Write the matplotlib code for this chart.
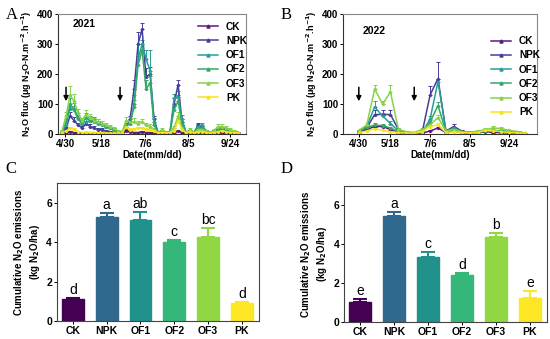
import matplotlib
matplotlib.use("Agg")
import matplotlib.pyplot as plt
from matplotlib.lines import Line2D
import numpy as np

plt.rcParams["font.family"] = ["Liberation Sans", "DejaVu Sans"]
plt.rcParams["font.weight"] = "bold"

treatments = ["CK", "NPK", "OF1", "OF2", "OF3", "PK"]
line_colors = ["#5a1a7a", "#443f9c", "#2a9d98", "#35a866", "#86d24a", "#f7e21e"]
bar_colors = ["#440154", "#31688e", "#21918c", "#35b779", "#90d743", "#fde725"]

# ---- 2021 flux (sampling index) ----
flux_2021 = {
    "CK": [5, 5, 8, 5, 4, 3, 5, 4, 4, 3, 3, 3, 2, 2, 2, 2, 10, 8, 5, 5, 8, 5, 5, 3, 2, 3, 2, 3, 5, 10, 5, 3, 3, 2, 5, 5, 3, 2, 3, 5, 5, 5, 3, 3, 2],
    "NPK": [5, 20, 60, 45, 30, 20, 35, 25, 20, 15, 15, 10, 8, 5, 3, 3, 20, 50, 150, 300, 350, 190, 200, 50, 5, 10, 5, 8, 100, 165, 40, 5, 10, 5, 30, 20, 10, 5, 10, 15, 20, 15, 10, 8, 5],
    "OF1": [8, 30, 85, 85, 55, 35, 40, 45, 45, 40, 35, 25, 20, 15, 8, 5, 25, 40, 100, 250, 300, 250, 210, 40, 5, 10, 5, 8, 120, 125, 50, 5, 10, 5, 25, 30, 10, 5, 10, 15, 20, 15, 10, 8, 5],
    "OF2": [8, 40, 100, 80, 50, 35, 55, 45, 40, 35, 30, 25, 20, 15, 8, 5, 30, 35, 90, 230, 280, 150, 170, 30, 5, 10, 5, 8, 80, 110, 30, 5, 12, 5, 20, 20, 10, 5, 10, 15, 20, 15, 10, 8, 5],
    "OF3": [10, 60, 130, 110, 70, 45, 65, 55, 45, 40, 35, 30, 25, 20, 10, 8, 45, 40, 40, 35, 40, 30, 25, 15, 5, 15, 5, 8, 20, 60, 20, 5, 15, 5, 15, 15, 10, 5, 12, 25, 25, 20, 15, 10, 5],
    "PK": [5, 10, 20, 15, 8, 5, 5, 5, 5, 4, 4, 3, 3, 3, 2, 2, 25, 15, 15, 20, 20, 15, 15, 10, 3, 5, 3, 5, 10, 45, 15, 3, 8, 3, 8, 8, 5, 3, 5, 8, 10, 8, 5, 5, 3],
}
err_2021 = {
    "CK": [1, 1, 2, 1, 1, 1, 1, 1, 1, 1, 1, 1, 1, 1, 1, 1, 3, 2, 1, 1, 2, 1, 1, 1, 1, 1, 1, 1, 1, 3, 1, 1, 1, 1, 1, 1, 1, 1, 1, 1, 1, 1, 1, 1, 1],
    "NPK": [2, 5, 15, 12, 8, 6, 10, 8, 8, 6, 5, 4, 3, 2, 1, 1, 5, 10, 30, 40, 20, 30, 25, 10, 2, 3, 2, 2, 20, 15, 10, 2, 3, 2, 8, 6, 3, 2, 3, 5, 5, 4, 3, 2, 2],
    "OF1": [2, 8, 10, 20, 15, 10, 15, 15, 12, 10, 8, 6, 5, 4, 2, 2, 6, 10, 30, 50, 15, 30, 70, 15, 2, 3, 2, 2, 15, 20, 12, 2, 3, 2, 8, 8, 3, 2, 3, 5, 5, 4, 3, 2, 2],
    "OF2": [2, 10, 20, 15, 12, 10, 15, 12, 10, 8, 8, 6, 5, 4, 2, 2, 8, 10, 25, 30, 20, 30, 25, 10, 2, 3, 2, 2, 15, 20, 10, 2, 3, 2, 6, 6, 3, 2, 3, 5, 5, 4, 3, 2, 2],
    "OF3": [3, 15, 30, 25, 15, 10, 15, 12, 10, 10, 8, 6, 5, 4, 3, 2, 12, 10, 12, 10, 10, 8, 8, 5, 2, 5, 2, 2, 8, 12, 6, 2, 5, 2, 5, 5, 3, 2, 4, 8, 10, 6, 4, 3, 2],
    "PK": [1, 3, 5, 4, 2, 1, 1, 1, 1, 1, 1, 1, 1, 1, 1, 1, 5, 4, 4, 5, 5, 4, 4, 3, 1, 2, 1, 1, 3, 8, 4, 1, 2, 1, 2, 2, 1, 1, 2, 2, 3, 2, 1, 1, 1],
}
ticks_2021 = [0.75, 9.75, 20.75, 31.5, 42]
arrows_2021 = [1, 14.5]

# ---- 2022 flux ----
flux_2022 = {
    "CK": [5, 15, 25, 25, 15, 5, 3, 2, 3, 10, 20, 5, 10, 5, 3, 5, 8, 5, 5, 3, 3, 2],
    "NPK": [8, 20, 65, 65, 65, 15, 5, 3, 5, 130, 185, 10, 25, 10, 5, 8, 10, 10, 8, 8, 8, 3],
    "OF1": [10, 25, 90, 60, 35, 10, 5, 3, 5, 50, 175, 10, 15, 8, 5, 8, 10, 12, 10, 8, 5, 3],
    "OF2": [10, 22, 30, 28, 20, 8, 5, 3, 5, 40, 95, 8, 20, 8, 5, 8, 10, 12, 10, 8, 5, 3],
    "OF3": [12, 30, 150, 100, 140, 15, 8, 5, 15, 30, 55, 10, 15, 8, 5, 10, 15, 20, 18, 12, 8, 3],
    "PK": [5, 10, 18, 12, 8, 5, 3, 2, 8, 25, 30, 5, 8, 5, 3, 5, 12, 10, 8, 5, 3, 2],
}
err_2022 = {
    "CK": [1, 3, 5, 5, 4, 1, 1, 1, 1, 3, 4, 1, 2, 1, 1, 1, 2, 1, 1, 1, 1, 1],
    "NPK": [2, 5, 15, 15, 15, 4, 1, 1, 1, 30, 55, 3, 8, 2, 1, 2, 3, 3, 2, 4, 2, 1],
    "OF1": [2, 5, 20, 10, 8, 3, 1, 1, 1, 10, 10, 2, 3, 2, 1, 2, 3, 3, 2, 2, 1, 1],
    "OF2": [2, 5, 6, 6, 5, 2, 1, 1, 1, 8, 12, 2, 5, 2, 1, 2, 3, 3, 2, 2, 1, 1],
    "OF3": [3, 6, 12, 10, 22, 4, 2, 1, 4, 8, 10, 3, 4, 2, 1, 3, 5, 8, 6, 3, 2, 1],
    "PK": [1, 3, 6, 3, 2, 1, 1, 1, 3, 6, 6, 1, 2, 1, 1, 1, 3, 2, 2, 1, 1, 1],
}
ticks_2022 = [0, 3.9, 9, 14, 19]
arrows_2022 = [0, 7]

date_labels = ["4/30", "5/18", "7/6", "8/5", "9/24"]

# ---- cumulative emissions ----
cum_2021 = [1.1, 5.3, 5.1, 4.0, 4.25, 0.9]
cum_2021_err = [0.05, 0.2, 0.45, 0.12, 0.45, 0.08]
letters_2021 = ["d", "a", "ab", "c", "bc", "d"]
cum_2022 = [1.05, 5.45, 3.35, 2.4, 4.4, 1.25]
cum_2022_err = [0.12, 0.22, 0.25, 0.12, 0.17, 0.33]
letters_2022 = ["e", "a", "c", "d", "b", "e"]

fig = plt.figure(figsize=(5.5, 3.39), dpi=100)


def flux_panel(ax, flux, err, ticks, arrows, year, xlim, legend_anchor):
    handles = []
    for name, c in zip(treatments, line_colors):
        y = np.array(flux[name], dtype=float)
        x = np.arange(len(y))
        e = np.array(err[name], dtype=float)
        ax.errorbar(x, y, yerr=[np.zeros_like(e), e], color=c, lw=1.1,
                    marker="o", ms=1.3, elinewidth=0.7, capsize=1.2,
                    capthick=0.7)
        handles.append(Line2D([], [], color=c, lw=1.1, marker="^", ms=2.2,
                              label=name))
    ax.set_xlim(*xlim)
    ax.set_ylim(0, 400)
    ax.set_yticks([0, 100, 200, 300, 400])
    ax.set_xticks(ticks)
    ax.set_xticklabels(date_labels)
    ax.tick_params(labelsize=7, length=2, width=0.7, pad=1.5)
    for s in ax.spines.values():
        s.set_color("#888888")
        s.set_linewidth(0.8)
    ax.spines["left"].set_color("#333333")
    ax.spines["bottom"].set_color("#333333")
    ax.set_xlabel("Date(mm/dd)", fontsize=7, fontweight="bold", labelpad=1)
    ax.set_ylabel("N$_2$O flux (\u03bcg N$_2$O-N.m$^{-2}$.h$^{-1}$)",
                  fontsize=6.5, fontweight="bold", labelpad=2)
    for a in arrows:
        ax.annotate("", xy=(a, 100), xytext=(a, 165),
                    arrowprops=dict(arrowstyle="-|>", color="black", lw=1.1,
                                    mutation_scale=7))
    ax.text(*year[1], year[0], transform=ax.transAxes, fontsize=7.5,
            fontweight="bold", va="top")
    ax.legend(handles=handles, loc="upper left", bbox_to_anchor=legend_anchor,
              frameon=False, fontsize=7.3, handlelength=2.0, labelspacing=0.42,
              handletextpad=0.8, borderaxespad=0)


axA = fig.add_axes([0.1055, 0.6047, 0.342, 0.354])
flux_panel(axA, flux_2021, err_2021, ticks_2021, arrows_2021,
           ("2021", (0.08, 0.96)), (-1, 46), (0.72, 0.97))
axB = fig.add_axes([0.6236, 0.6047, 0.3527, 0.354])
flux_panel(axB, flux_2022, err_2022, ticks_2022, arrows_2022,
           ("2022", (0.1, 0.9)), (-2, 22.5), (0.74, 0.85))


def bar_panel(ax, vals, errs, letters):
    x = np.arange(len(treatments))
    ax.bar(x, vals, width=0.64, color=bar_colors, edgecolor=bar_colors)
    for xi, v, e, c, lt in zip(x, vals, errs, bar_colors, letters):
        ax.errorbar(xi, v, yerr=[[0], [e]], color=c, capsize=5, elinewidth=1.5,
                    capthick=1.5)
        ax.text(xi, v + e + 0.05, lt, ha="center", va="bottom", fontsize=10,
                fontweight="normal")
    ax.set_xlim(-0.47, 5.5)
    ax.set_ylim(0, 7)
    ax.set_yticks([0, 2, 4, 6])
    ax.set_xticks(x)
    ax.set_xticklabels(treatments)
    ax.tick_params(labelsize=7.5, length=2, width=0.7, pad=1.5)
    for s in ax.spines.values():
        s.set_color("#444444")
        s.set_linewidth(0.8)
    ax.set_ylabel("Cumulative N$_2$O emissions\n(kg N$_2$O/ha)", fontsize=7,
                  fontweight="bold", labelpad=3)


axC = fig.add_axes([0.1036, 0.0531, 0.367, 0.407])
bar_panel(axC, cum_2021, cum_2021_err, letters_2021)
axD = fig.add_axes([0.6255, 0.0501, 0.369, 0.401])
bar_panel(axD, cum_2022, cum_2022_err, letters_2022)

for lbl, (fx, fy) in zip("ABCD", [(0.01, 0.98), (0.51, 0.98),
                                   (0.01, 0.525), (0.51, 0.525)]):
    fig.text(fx, fy, lbl, fontsize=12, family="Liberation Serif",
             fontweight="normal", va="top")

fig.savefig("out.png", dpi=100)
